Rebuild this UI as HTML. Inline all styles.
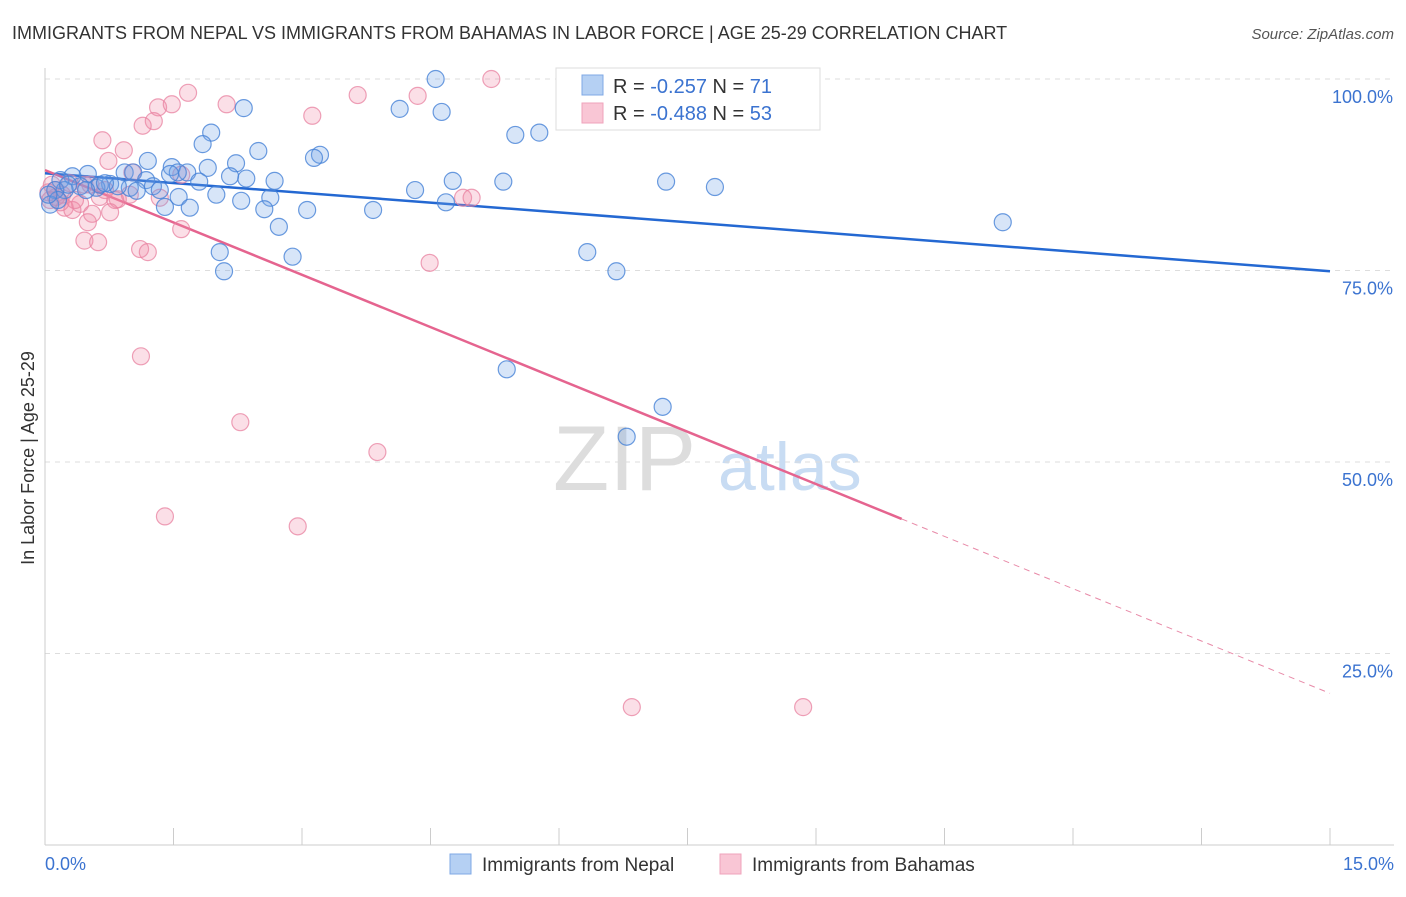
<!DOCTYPE html>
<html><head><meta charset="utf-8"><style>
body{margin:0;background:#fff;font-family:"Liberation Sans",sans-serif;}
svg text{font-family:"Liberation Sans",sans-serif;}
</style></head><body>
<svg id="chart" width="1406" height="892" xmlns="http://www.w3.org/2000/svg">
<text x="12" y="39" font-size="18" fill="#333">IMMIGRANTS FROM NEPAL VS IMMIGRANTS FROM BAHAMAS IN LABOR FORCE | AGE 25-29 CORRELATION CHART</text>
<text x="1394" y="39" font-size="15" fill="#555" text-anchor="end" font-style="italic">Source: ZipAtlas.com</text>
<g><text x="553" y="490" font-size="92" fill="#ddd" font-family="Liberation Serif">ZIP</text><text x="718" y="490" font-size="68" fill="#c8dcf3">atlas</text></g>
<g id="grid"></g><g id="axes"></g><g id="lines"></g><g id="pts"></g>
<text transform="translate(34,458) rotate(-90)" font-size="18" fill="#333" text-anchor="middle">In Labor Force | Age 25-29</text>
<g>
<rect x="556" y="68" width="264" height="62" fill="#fff" stroke="#ddd"/>
<rect x="582" y="75" width="21" height="20" fill="#b5d0f3" stroke="#7fa8e6"/>
<rect x="582" y="103" width="21" height="20" fill="#f9c6d5" stroke="#efa3bb"/>
<text x="613" y="93" font-size="20" fill="#333">R = <tspan fill="#3b73d0"> -0.257</tspan>   N = <tspan fill="#3b73d0"> 71</tspan></text>
<text x="613" y="120" font-size="20" fill="#333">R = <tspan fill="#3b73d0">-0.488</tspan>   N = <tspan fill="#3b73d0">53</tspan></text>
</g>
<g>
<rect x="450" y="854" width="21" height="20" fill="#b5d0f3" stroke="#7fa8e6"/>
<text x="482" y="871" font-size="19" fill="#333">Immigrants from Nepal</text>
<rect x="720" y="854" width="21" height="20" fill="#f9c6d5" stroke="#efa3bb"/>
<text x="752" y="871" font-size="19" fill="#333">Immigrants from Bahamas</text>
</g>
</svg>
<script>
const nepalX=[4.56,6.20,2.32,4.14,4.63,5.49,5.77,1.94,1.84,2.49,3.21,3.14,1.20,2.23,1.90,1.48,1.66,1.55,1.46,0.93,1.03,0.50,0.32,0.18,2.16,2.35,1.18,1.80,2.68,5.35,4.76,7.25,7.82,4.32,1.26,0.76,0.60,0.41,0.23,0.99,1.07,2.00,1.56,2.29,2.63,4.68,1.40,1.69,2.56,3.06,3.83,11.18,2.73,2.04,6.33,2.09,2.89,6.67,5.39,7.21,6.79,0.12,0.06,0.15,0.64,0.85,0.70,0.48,1.34,0.04,0.27];
const nepalY=[100.0,100.0,96.2,96.1,95.7,92.7,93.0,93.0,91.5,90.6,90.1,89.7,89.3,89.0,88.4,88.5,87.8,87.8,87.6,87.8,87.8,87.6,87.3,86.8,87.3,87.0,86.8,86.6,86.7,86.6,86.7,86.6,85.9,85.5,86.0,86.3,85.8,86.0,85.5,85.8,85.4,84.9,84.6,84.1,84.5,83.9,83.3,83.2,83.0,82.9,82.9,81.3,80.7,77.4,77.4,74.9,76.8,74.9,62.1,57.2,53.3,85.5,83.6,84.2,86.2,86.0,86.4,85.5,85.5,84.9,86.2];
const bahamasX=[5.21,1.67,3.65,4.35,2.12,1.32,1.48,3.12,1.27,1.14,0.67,0.92,0.74,1.02,1.59,0.46,0.29,0.12,0.04,0.20,0.64,0.85,1.34,4.88,4.98,0.82,0.41,0.23,0.32,0.55,0.76,0.50,1.59,0.46,0.62,1.11,1.20,4.49,1.12,2.28,3.88,1.40,2.95,6.85,8.85,0.06,0.13,0.18,0.35,0.53,0.99,0.70,0.08];
const bahamasY=[100.0,98.2,97.9,97.8,96.7,96.3,96.7,95.2,94.5,93.9,92.0,90.7,89.3,87.8,87.5,86.2,86.4,85.5,85.2,84.9,84.6,84.3,84.5,84.5,84.5,84.2,83.7,83.2,82.9,82.4,82.6,81.3,80.4,78.9,78.7,77.8,77.4,76.0,63.8,55.2,51.3,42.9,41.6,18.0,18.0,84.2,84.6,83.9,84.2,86.2,84.9,85.5,86.2];
const nepalTrend=[87.7,74.9];
const bahamasTrend=[88.1,19.8];
const bahamasSolidEnd=10.0;
const yTicks=[100,75,50,25];
const yTickLabels=["100.0%","75.0%","50.0%","25.0%"];
const xTicks=[0,1.5,3,4.5,6,7.5,9,10.5,12,13.5,15];
const xLabels=["0.0%","15.0%"];
const NS="http://www.w3.org/2000/svg";
const X=v=>45+v/15*1285, Y=v=>845-v/100*766;
function mk(p,t,a){const e=document.createElementNS(NS,t);for(const k in a)e.setAttribute(k,a[k]);document.getElementById(p).appendChild(e);return e;}
yTicks.forEach((t,i)=>{
 const l=mk('grid','line',{x1:45,x2:1394,y1:Y(t),y2:Y(t),stroke:'#ddd','stroke-dasharray':'5,5'});
 
 
 const tx=mk('grid','text',{x:1393,y:Y(t)+24,'font-size':18,fill:'#3b73d0','text-anchor':'end'});
 tx.textContent=yTickLabels[i];
 
 
});
const ax=mk('axes','line',{x1:45,x2:1394,y1:845,y2:845,stroke:'#ccc'});


const ay=mk('axes','line',{x1:45,x2:45,y1:68,y2:845,stroke:'#ccc'});


xTicks.forEach(t=>{
 const l=mk('axes','line',{x1:X(t),x2:X(t),y1:828,y2:845,stroke:'#ccc'});
 
 
});
[[0,'start',45],[15,'end',1394]].forEach((d,i)=>{
 const tx=mk('axes','text',{x:d[2],y:870,'font-size':18,fill:'#3b73d0','text-anchor':d[1]});
 tx.textContent=xLabels[i];
 
 
});
function pts(xs,ys,fill,stroke,name){xs.forEach((x,i)=>{
 const c=mk('pts','circle',{cx:X(x),cy:Y(ys[i]),r:8.5,fill:fill,stroke:stroke,'stroke-width':1.2});
 
 
});}
pts(bahamasX,bahamasY,'rgba(242,140,170,0.28)','rgba(232,130,160,0.75)','bahamas-point');
pts(nepalX,nepalY,'rgba(110,160,230,0.28)','rgba(70,130,215,0.8)','nepal-point');
const bl=mk('lines','line',{x1:X(0),y1:Y(nepalTrend[0]),x2:X(15),y2:Y(nepalTrend[1]),stroke:'#2468d2','stroke-width':2.5});


const pf=v=>bahamasTrend[0]+(bahamasTrend[1]-bahamasTrend[0])*v/15;
const pl=mk('lines','line',{x1:X(0),y1:Y(pf(0)),x2:X(bahamasSolidEnd),y2:Y(pf(bahamasSolidEnd)),stroke:'#e5648f','stroke-width':2.5});


const pd=mk('lines','line',{x1:X(bahamasSolidEnd),y1:Y(pf(bahamasSolidEnd)),x2:X(15),y2:Y(pf(15)),stroke:'#e88aa8','stroke-width':1,'stroke-dasharray':'6,5'});


</script>
</body></html>
